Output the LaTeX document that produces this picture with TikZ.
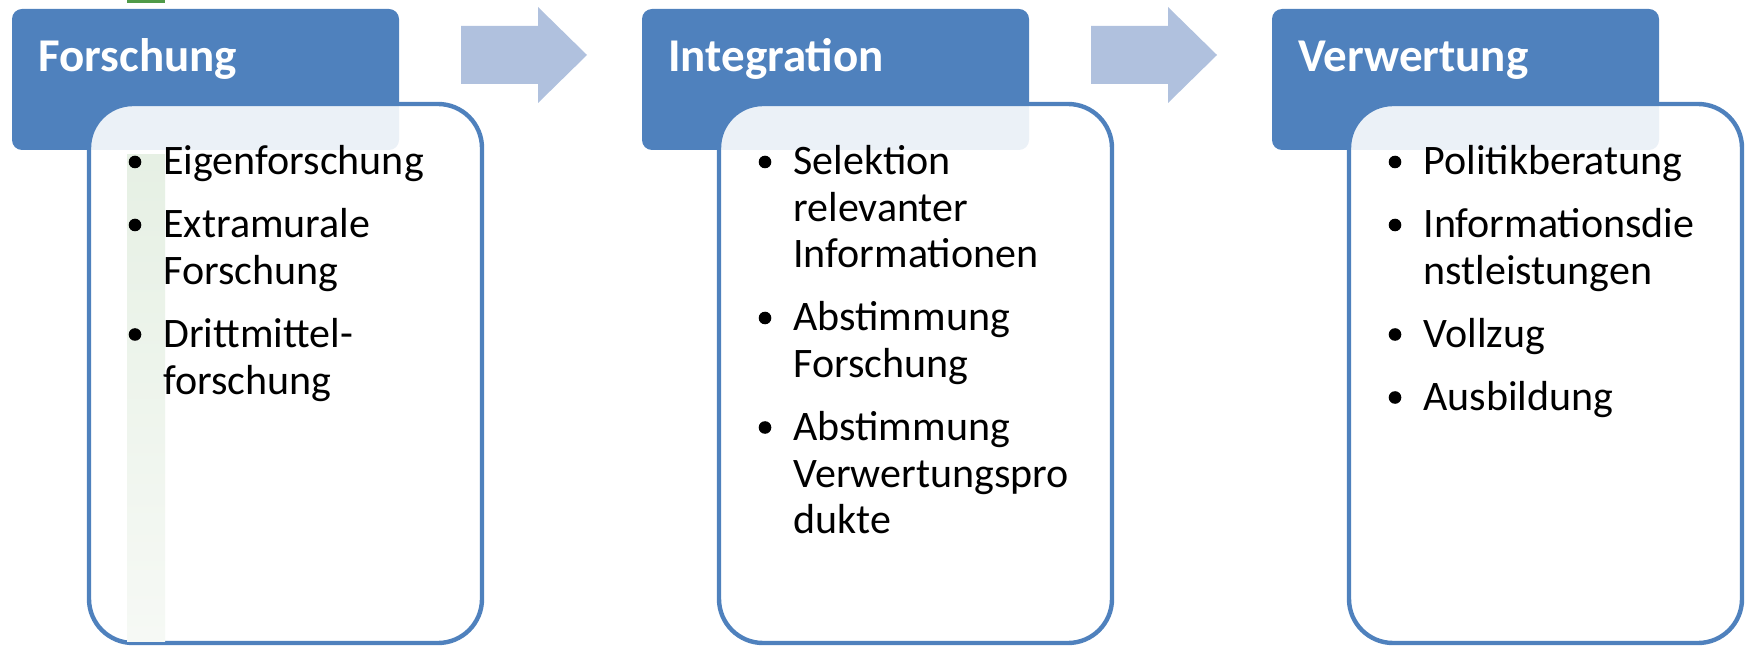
\documentclass[tikz,border=0pt]{standalone}
\usepackage{fontspec}
\setmainfont{Carlito}
\usetikzlibrary{positioning}

\definecolor{headblue}{HTML}{4F81BD}
\definecolor{arrowblue}{HTML}{B0C1DE}
\definecolor{markgreen}{HTML}{4F9A48}

\begin{document}
\begin{tikzpicture}[
    x=0.5pt, y=-0.5pt,
    headbox/.style={fill=headblue, rounded corners=5pt, minimum width=193.5pt, minimum height=70.5pt, inner sep=0},
    headtext/.style={anchor=base west, inner sep=0, text=white, font=\fontsize{23.5}{28}\selectfont\bfseries},
    bodybox/.style={draw=headblue, line width=2.2pt, fill=white, fill opacity=0.89, rounded corners=22pt, minimum width=196.5pt, minimum height=269.5pt, inner sep=0},
    item/.style={anchor=base west, inner sep=0, align=left, font=\fontsize{21}{23.25}\selectfont},
    dot/.style={circle, fill=black, inner sep=0, minimum size=6.3pt}
]
  \useasboundingbox (0,0) rectangle (1750,646);

  % Arrows between the stages
  \fill[arrowblue] (461,26) -- (538,26) -- (538,7) -- (587,55) -- (538,103) -- (538,84) -- (461,84) -- cycle;
  \fill[arrowblue] (1091,26) -- (1168,26) -- (1168,7) -- (1217,55) -- (1168,103) -- (1168,84) -- (1091,84) -- cycle;

  % Green stripe
  \fill[markgreen] (127,0) rectangle (165,3);

  % Header boxes
  \node (hForschung)   [headbox] at (205.5,79.5)  {};
  \node (hIntegration) [headbox] at (835.5,79.5)  {};
  \node (hVerwertung)  [headbox] at (1465.5,79.5) {};

  % Body boxes
  \node (bForschung)   [bodybox] at (285.5,373.5)  {};
  \node (bIntegration) [bodybox] at (915.5,373.5)  {};
  \node (bVerwertung)  [bodybox] at (1545.5,373.5) {};

  \shade[top color={rgb,255:red,230;green,240;blue,228}, bottom color={rgb,255:red,246;green,249;blue,245}] (127,155) rectangle (165,641);

  % Header texts
  \node (tForschung)   [headtext] at (38,72)   {Forschung};
  \node (tIntegration) [headtext] at (668,72)  {Integration};
  \node (tVerwertung)  [headtext] at (1298,72) {Verwertung};

  % First column (anchored at the last line)
  \node (f1) [item] at (163,175)   {Eigenforschung};
  \node (f2) [item] at (163,284.5) {Extramurale\\Forschung};
  \node (f3) [item] at (163,394)   {Drittmittel-\\forschung};
  \node (fd1) [dot] at (135,162)   {};
  \node (fd2) [dot] at (135,225)   {};
  \node (fd3) [dot] at (135,334.5) {};

  % Second column
  \node (i1) [item] at (793,268)   {Selektion\\relevanter\\Informationen};
  \node (i2) [item] at (793,377.5) {Abstimmung\\Forschung};
  \node (i3) [item] at (793,533.5) {Abstimmung\\Verwertungspro\\dukte};
  \node (id1) [dot] at (765,162)   {};
  \node (id2) [dot] at (765,318)   {};
  \node (id3) [dot] at (765,427.5) {};

  % Third column
  \node (v1) [item] at (1423,175)   {Politikberatung};
  \node (v2) [item] at (1423,284.5) {Informationsdie\\nstleistungen};
  \node (v3) [item] at (1423,347.5) {Vollzug};
  \node (v4) [item] at (1423,410.5) {Ausbildung};
  \node (vd1) [dot] at (1395,162)   {};
  \node (vd2) [dot] at (1395,225)   {};
  \node (vd3) [dot] at (1395,334.5) {};
  \node (vd4) [dot] at (1395,397.5) {};
\end{tikzpicture}
\end{document}
